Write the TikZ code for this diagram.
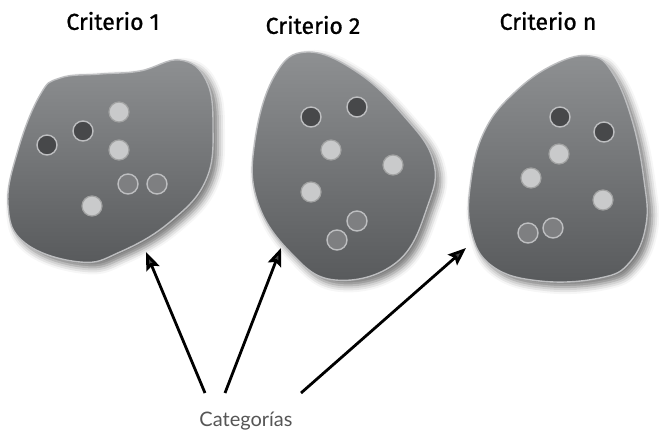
\documentclass[tikz,border=0pt]{standalone}
\usepackage{fontspec}
\setmainfont{Fira Sans}
\newfontfamily\critfont{Fira Sans}[FakeBold=1]
\newfontfamily\catfont{Lato}
\usetikzlibrary{arrows.meta,shadows.blur}
\definecolor{blobtop}{HTML}{8E9092}
\definecolor{blobbot}{HTML}{585A5C}
\definecolor{rim}{HTML}{BDBEC0}
\definecolor{dotdark}{HTML}{47484A}
\definecolor{dotlight}{HTML}{C9CACB}
\definecolor{dotmid}{HTML}{7E7F81}
\definecolor{labelgray}{HTML}{555555}
\tikzset{
  blob/.style={draw=rim, line width=1.4pt, top color=blobtop, bottom color=blobbot,
    blur shadow={shadow xshift=5pt, shadow yshift=-5pt, shadow blur radius=7pt, shadow opacity=55}},
  dark/.style={fill=dotdark, draw=rim, line width=1.4pt},
  light/.style={fill=dotlight, draw=dotlight!80!black, line width=1.2pt},
  mid/.style={fill=dotmid, draw=rim, line width=1.4pt},
  pointer/.style={-{Stealth[length=18pt,width=14pt,inset=3pt]}, line width=2.8pt},
  crit/.style={font=\critfont\fontsize{23}{27}\selectfont},
}
\begin{document}
\begin{tikzpicture}[x=1pt,y=-1pt]
\useasboundingbox (0,0) rectangle (659,436);
% titles
\node[crit] (t1) at (113,21) {Criterio 1};
\node[crit] (t2) at (313,25) {Criterio 2};
\node[crit] (tn) at (548,21) {Criterio n};
% blobs
\path[blob] plot[smooth cycle, tension=0.7] coordinates {(40,95) (60,78) (100,74) (140,71) (180,60) (206,80) (213,125) (206,180) (170,222) (120,252) (80,262) (25,243) (8,205) (18,150)};
\path[blob] plot[smooth cycle, tension=0.7] coordinates {(307,52) (357,72) (403,115) (433,160) (428,205) (397,262) (335,280) (290,252) (257,200) (255,140) (275,75)};
\path[blob] plot[smooth cycle, tension=0.7] coordinates {(555,64) (590,56) (612,72) (632,120) (644,180) (646,225) (630,262) (600,278) (540,281) (492,266) (471,230) (471,180) (485,130) (515,92)};
% dots, criterio 1
\foreach \p in {(83,131),(47,145)} \draw[dark] \p circle (10);
\foreach \p in {(119,112),(119,150),(92,206)} \draw[light] \p circle (10);
\foreach \p in {(128,184),(157,184)} \draw[mid] \p circle (10);
% dots, criterio 2
\foreach \p in {(311,117),(357,107)} \draw[dark] \p circle (10);
\foreach \p in {(331,150),(393,165),(311,192)} \draw[light] \p circle (10);
\foreach \p in {(357,221),(337,240)} \draw[mid] \p circle (10);
% dots, criterio n
\foreach \p in {(560,117),(604,132)} \draw[dark] \p circle (10);
\foreach \p in {(559,154),(531,178),(603,200)} \draw[light] \p circle (10);
\foreach \p in {(528,233),(553,228)} \draw[mid] \p circle (10);
% label and arrows
\node[text=labelgray, font=\catfont\fontsize{20}{24}\selectfont] (cat) at (246,421) {Categorías};
\coordinate (s1) at (205,393);
\coordinate (s2) at (225,393);
\coordinate (s3) at (301,393);
\coordinate (e1) at (146,252);
\coordinate (e2) at (281,248);
\coordinate (e3) at (466,248);
\draw[pointer] (s1) -- (e1);
\draw[pointer] (s2) -- (e2);
\draw[pointer] (s3) -- (e3);
\end{tikzpicture}
\end{document}
